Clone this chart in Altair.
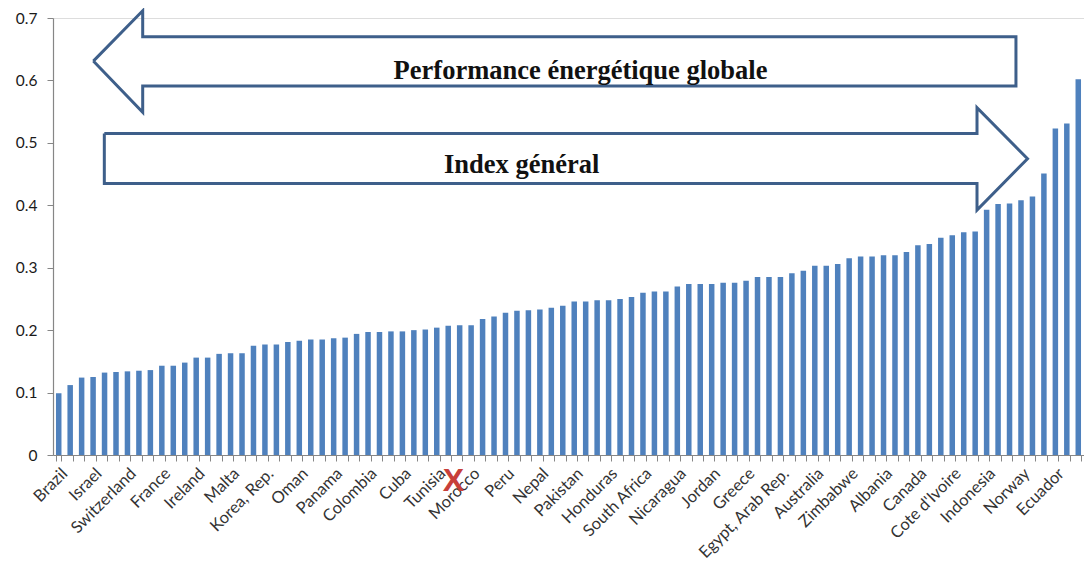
import json
import altair as alt
import pandas as pd

# ---------------- data ----------------
values = [
    0.099, 0.112, 0.124, 0.125, 0.132, 0.133, 0.134, 0.135, 0.136, 0.143,
    0.143, 0.148, 0.156, 0.156, 0.162, 0.163, 0.163, 0.175, 0.177, 0.177,
    0.181, 0.183, 0.185, 0.185, 0.187, 0.188, 0.194, 0.197, 0.197, 0.198,
    0.198, 0.200, 0.201, 0.204, 0.207, 0.208, 0.208, 0.218, 0.222, 0.228,
    0.231, 0.232, 0.233, 0.236, 0.239, 0.246, 0.246, 0.248, 0.248, 0.250,
    0.253, 0.260, 0.262, 0.262, 0.270, 0.274, 0.274, 0.274, 0.276, 0.276,
    0.279, 0.285, 0.285, 0.285, 0.291, 0.295, 0.303, 0.303, 0.306, 0.315,
    0.318, 0.318, 0.320, 0.320, 0.325, 0.336, 0.338, 0.348, 0.352, 0.357,
    0.358, 0.393, 0.402, 0.403, 0.408, 0.414, 0.451, 0.523, 0.531, 0.602,
]

names = [
    "Brazil", "Israel", "Switzerland", "France", "Ireland", "Malta",
    "Korea, Rep.", "Oman", "Panama", "Colombia", "Cuba", "Tunisia",
    "Morocco", "Peru", "Nepal", "Pakistan", "Honduras", "South Africa",
    "Nicaragua", "Jordan", "Greece", "Egypt, Arab Rep.", "Australia",
    "Zimbabwe", "Albania", "Canada", "Cote d'Ivoire", "Indonesia",
    "Norway", "Ecuador",
]
label_every = 3

y_ticks = [0.0, 0.1, 0.2, 0.3, 0.4, 0.5, 0.6, 0.7]

# block arrows, in (bar-index units, value units)
arrow_shape = ["left"] * 8 + ["right"] * 8
arrow_x = [3.52, 7.83, 7.83, 84.06, 84.06, 7.83, 7.83, 3.52,
           4.48, 80.66, 80.66, 85.07, 80.66, 80.66, 4.48, 4.48]
arrow_y = [0.631, 0.7115, 0.670, 0.670, 0.591, 0.591, 0.549, 0.631,
           0.515, 0.515, 0.5565, 0.4746, 0.3925, 0.435, 0.435, 0.515]

texts = ["Performance énergétique globale", "Index général"]
text_x = [46.05, 40.91]
text_y = [0.603, 0.451]

marker_text = ["X"]
marker_x = [34.95]
marker_y = [-0.042]

# ---------------- build ----------------
n = len(values)
tick_labels = [""] * n
for k, name in enumerate(names):
    tick_labels[k * label_every] = name

bars_df = pd.DataFrame({"idx": list(range(n)), "value": values})
arrow_df = pd.DataFrame({
    "shape": arrow_shape,
    "ord": list(range(len(arrow_x))),
    "ax": arrow_x,
    "value": arrow_y,
})
text_df = pd.DataFrame({"t": texts, "tx": text_x, "value": text_y})
marker_df = pd.DataFrame({"t": marker_text, "tx": marker_x, "value": marker_y})

W, H = 1031, 437
yscale = alt.Scale(domain=[0, 0.7], nice=False, zero=True)
yaxis = alt.Axis(
    values=y_ticks, format="~g", grid=False, title=None,
    labelFont="Lato", labelFontSize=15.5, labelColor="#1a1a1a",
    labelPadding=10, tickSize=6, tickColor="#868686",
    domainColor="#868686", domainWidth=1.2,
)


def yenc():
    return alt.Y("value:Q", scale=yscale, axis=yaxis, title=None)


ux = alt.Scale(domain=[0, n], nice=False, zero=False)

bars = alt.Chart(bars_df).mark_bar(color="#4f81bd").encode(
    x=alt.X(
        "idx:O",
        title=None,
        scale=alt.Scale(paddingInner=0.52, paddingOuter=0.26),
        axis=alt.Axis(
            labelExpr=json.dumps(tick_labels) + "[datum.value]",
            labelAngle=-45, labelFont="Lato", labelFontSize=16.5,
            labelColor="#333333", labelOverlap=False, labelPadding=4,
            tickBand="extent", tickSize=6, tickColor="#868686",
            domainColor="#868686", domainWidth=1.2,
        ),
    ),
    y=yenc(),
)

arrows = alt.Chart(arrow_df).mark_line(
    color="#3e5f8a", strokeWidth=3, strokeJoin="miter", clip=False
).encode(
    x=alt.X("ax:Q", scale=ux, axis=None),
    y=yenc(),
    detail="shape:N",
    order="ord:Q",
)

labels = alt.Chart(text_df).mark_text(
    font="Liberation Serif", fontWeight="bold", fontSize=26.5,
    color="#111111", align="center", baseline="alphabetic", clip=False,
).encode(
    x=alt.X("tx:Q", scale=ux, axis=None),
    y=yenc(),
    text="t:N",
)

marker = alt.Chart(marker_df).mark_text(
    font="Liberation Sans", fontWeight="bold", fontSize=32,
    color="#c8403a", align="center", baseline="middle", clip=False,
).encode(
    x=alt.X("tx:Q", scale=ux, axis=None),
    y=yenc(),
    text="t:N",
)

chart = (
    alt.layer(bars, arrows, labels, marker)
    .resolve_scale(x="independent")
    .properties(
        width=W, height=H,
        padding={"left": 45, "top": 10, "right": 0, "bottom": 110},
        autosize=alt.AutoSizeParams(type="none"),
    )
    .configure_view(stroke=None)
    .configure(background="white")
)

chart.save("out.html", embed_options={"renderer": "svg", "actions": False})
